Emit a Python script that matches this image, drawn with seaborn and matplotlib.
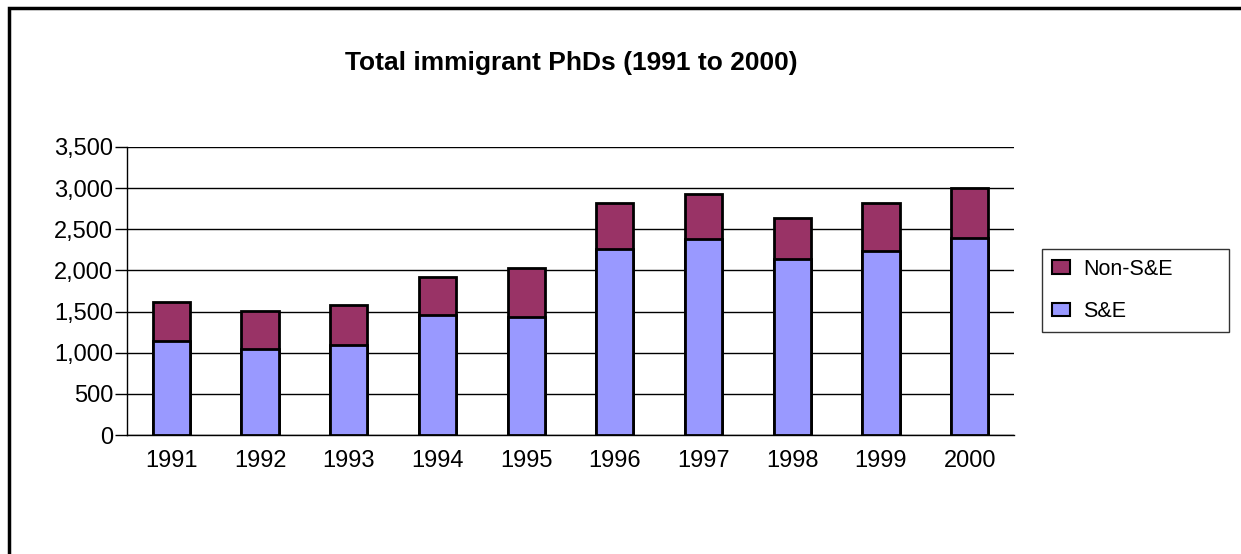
import matplotlib
matplotlib.use("Agg")
from matplotlib import pyplot as plt
from matplotlib.patches import Patch, Rectangle
import seaborn as sns
import pandas as pd

years = ["1991", "1992", "1993", "1994", "1995",
         "1996", "1997", "1998", "1999", "2000"]
se = [1141, 1040, 1088, 1457, 1428, 2258, 2379, 2136, 2233, 2395]
non_se = [481, 461, 486, 461, 607, 558, 554, 502, 583, 611]

se_color = "#9999FF"
non_se_color = "#993366"

df = pd.DataFrame({"year": years, "S&E": se, "Non-S&E": non_se})
df["total"] = df["S&E"] + df["Non-S&E"]

sns.set_style("white")
plt.rcParams["font.family"] = ["Liberation Sans", "DejaVu Sans"]
plt.rcParams["text.color"] = "black"
plt.rcParams["xtick.color"] = "black"
plt.rcParams["ytick.color"] = "black"

fig = plt.figure(figsize=(12.41, 5.54), dpi=100)
ax = fig.add_axes([127 / 1241, 1 - 435 / 554, (1014 - 127) / 1241, (435 - 147) / 554])

# stacked look: total bar in Non-S&E colour, S&E drawn over it
sns.barplot(data=df, x="year", y="total", color=non_se_color, saturation=1,
            width=0.42, edgecolor="black", linewidth=2, ax=ax, zorder=3)
sns.barplot(data=df, x="year", y="S&E", color=se_color, saturation=1,
            width=0.42, edgecolor="black", linewidth=2, ax=ax, zorder=4)

ax.set_xlim(-0.5, 9.5)
ax.set_ylim(0, 3500)
ax.set_yticks(range(0, 3501, 500))
ax.set_yticklabels([f"{v:,}" for v in range(0, 3501, 500)])
ax.yaxis.grid(True, color="black", linewidth=1)
ax.set_axisbelow(True)
for side in ["top", "right"]:
    ax.spines[side].set_visible(False)
for side in ["left", "bottom"]:
    ax.spines[side].set_color("black")
    ax.spines[side].set_linewidth(1)
ax.tick_params(axis="y", left=True, length=9, width=1, color="black",
               labelcolor="black", labelsize=17, pad=1)
ax.tick_params(axis="x", bottom=False, labelcolor="black", labelsize=17, pad=7)
ax.set_xlabel("")
ax.set_ylabel("")

fig.text(571 / 1241, 1 - 63 / 554, "Total immigrant PhDs (1991 to 2000)",
         ha="center", va="center", fontsize=19, fontweight="bold", color="black")

handles = [Patch(facecolor=non_se_color, edgecolor="black", linewidth=1.5, label="Non-S&E"),
           Patch(facecolor=se_color, edgecolor="black", linewidth=1.5, label="S&E")]
leg = fig.legend(handles=handles, loc="upper left", mode="expand",
                 bbox_to_anchor=(1042 / 1241, 1 - 332 / 554, 187 / 1241, 83 / 554),
                 frameon=True, fancybox=False, fontsize=15.5,
                 handlelength=0.85, handleheight=0.6, handletextpad=0.6,
                 labelspacing=1.0, borderpad=0.45, borderaxespad=0)
leg.get_frame().set_edgecolor("black")
leg.get_frame().set_linewidth(1)
for t in leg.get_texts():
    t.set_color("black")

# outer chart border
fig.patches.append(Rectangle((9 / 1241, -0.1), 1.2, 1 - 8 / 554 + 0.1,
                             transform=fig.transFigure, fill=False,
                             edgecolor="black", linewidth=2.5))

fig.savefig("out.png", dpi=100)
